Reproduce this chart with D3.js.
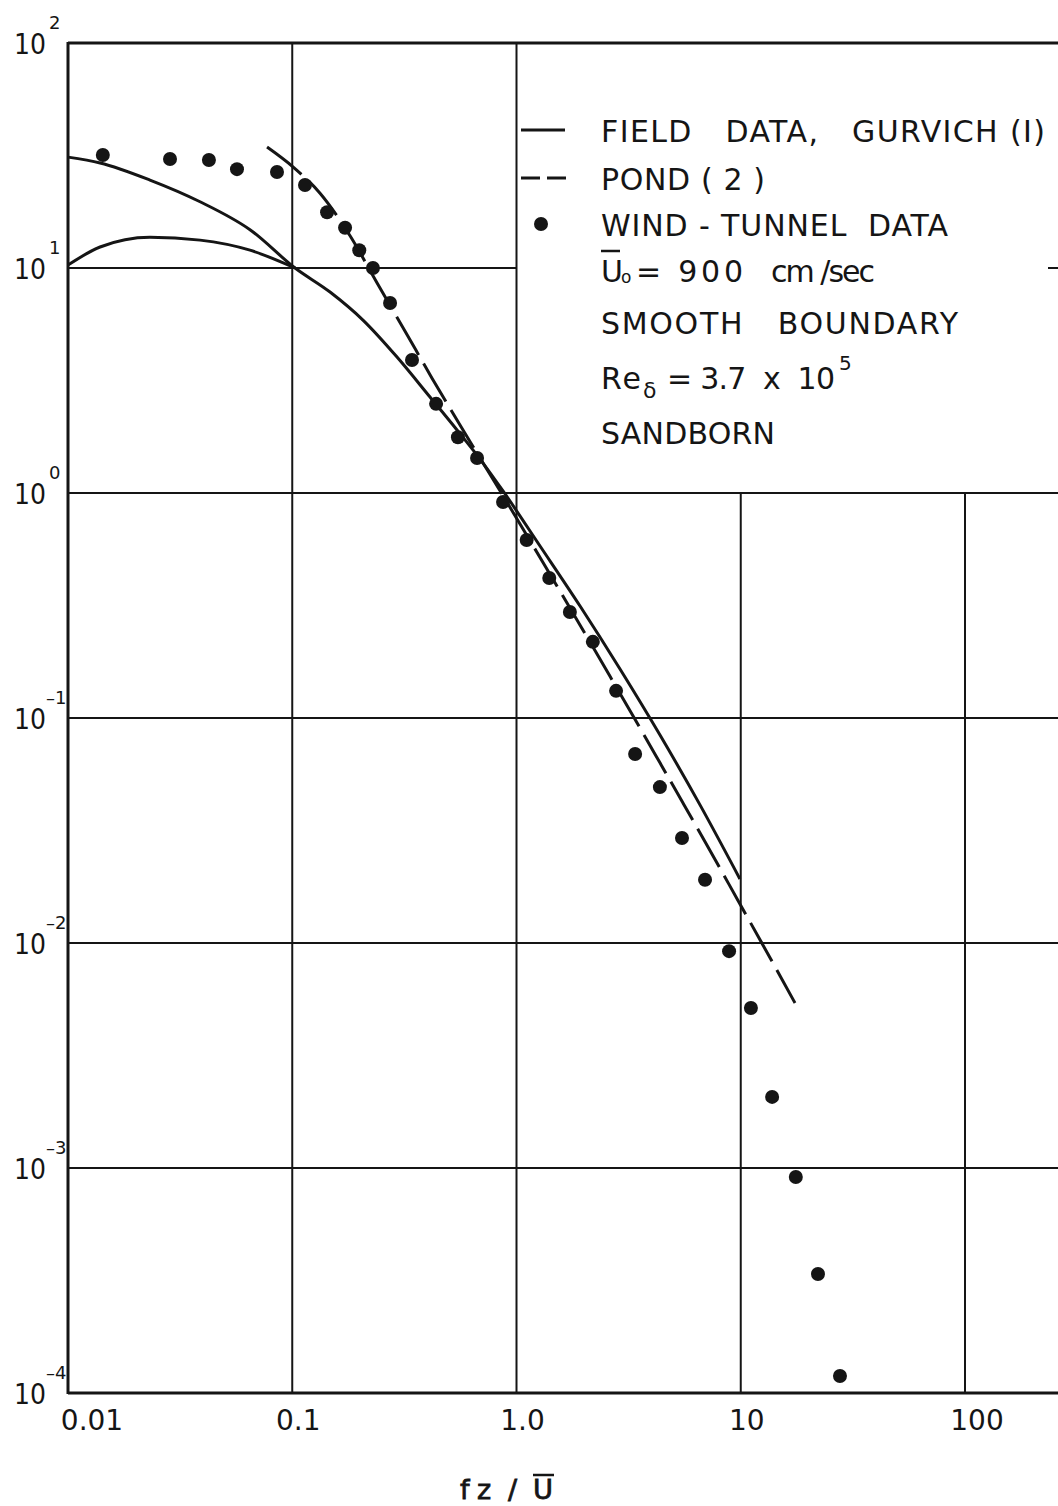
<!DOCTYPE html>
<html>
<head>
<meta charset="utf-8">
<script src="https://cdn.jsdelivr.net/npm/d3@7"></script>
<style>
    body { margin: 0; background: #fff; }
    svg { display: block; font-family: "DejaVu Sans", sans-serif; fill: #151515; }
</style>
</head>
<body>
<svg id="chart" width="1058" height="1506"></svg>
<script>

// wind-tunnel spectrum points
var tunnel_f = [0.0143, 0.0285, 0.0425, 0.0567, 0.0855, 0.114, 0.143, 0.172, 0.199, 0.229,
                0.273, 0.342, 0.438, 0.548, 0.667, 0.871, 1.11, 1.40, 1.73, 2.19,
                2.78, 3.38, 4.36, 5.47, 6.93, 8.87, 11.1, 13.8, 17.6, 22.1, 27.7];
var tunnel_s = [31.8, 30.5, 30.2, 27.5, 26.7, 23.4, 17.7, 15.1, 12.0, 10.0,
                6.99, 3.90, 2.49, 1.77, 1.43, 0.912, 0.618, 0.419, 0.296, 0.218,
                0.132, 0.0692, 0.0493, 0.0293, 0.0191, 0.0092, 0.00514, 0.00207, 0.000912, 0.000338, 0.000119];

// Gurvich field data: two branches at low f, they meet near f = 0.1
var gurvich_upper_f = [0.01, 0.0139, 0.0232, 0.0388, 0.0648];
var gurvich_upper_s = [31.1, 29.3, 24.6, 19.7, 14.8];
var gurvich_lower_f = [0.01, 0.0139, 0.0232, 0.0388, 0.0648, 0.1029];
var gurvich_lower_s = [10.3, 12.4, 13.7, 13.3, 12.0, 10.0];
var gurvich_tail_f = [0.1029, 0.1474, 0.2067, 0.2932, 0.4114, 0.5429, 0.7088, 0.8705,
                      1.273, 1.920, 2.894, 4.364, 6.58, 9.92];
var gurvich_tail_s = [10.0, 7.82, 5.87, 4.02, 2.67, 1.905, 1.359, 1.021,
                      0.5813, 0.3146, 0.1651, 0.0840, 0.0411, 0.01925];

// Pond (2)
var pond_f = [0.0772, 0.101, 0.133, 0.181, 0.239, 0.318, 0.420, 0.621, 0.889, 1.313,
              1.960, 2.612, 3.446, 4.364, 5.527, 6.93, 9.72, 12.57, 17.46];
var pond_s = [34.5, 28.1, 21.5, 13.9, 8.58, 5.25, 3.24, 1.69, 0.94, 0.491,
              0.250, 0.1532, 0.0952, 0.0632, 0.0419, 0.0282, 0.01546, 0.00978, 0.00541];

var x_ticks = [0.01, 0.1, 1, 10, 100];
var x_tick_labels = ["0.01", "0.1", "1.0", "10", "100"];
var y_ticks = [1e2, 1e1, 1e0, 1e-1, 1e-2, 1e-3, 1e-4];
var y_tick_exps = ["2", "1", "0", "-1", "-2", "-3", "-4"];

var legend_text = ["FIELD   DATA,   GURVICH (I)", "POND ( 2 )", "WIND - TUNNEL  DATA",
                   "SMOOTH   BOUNDARY", "SANDBORN"];


function pairs(xs, ys) {
    return xs.map(function(v, i) { return [v, ys[i]]; });
}

draw_chart();

function draw_chart() {
    var svg = d3.select("#chart");
    var W = 1058;
    var left = 68, top = 43, bottom = 1393;

    var x = d3.scaleLog().domain([0.01, 100]).range([left, 965]);
    var y = d3.scaleLog().domain([1e-4, 1e2]).range([bottom, top]);
    var ink = "#151515";

    var grid = svg.append("g").attr("stroke", ink).attr("stroke-width", 2);

    // horizontal grid; the 10^1 line stops at the legend box
    y_ticks.slice(1, 6).forEach(function(v) {
        var x2 = v > 1 ? x(1) : W;
        grid.append("line").attr("x1", left).attr("x2", x2)
            .attr("y1", y(v)).attr("y2", y(v));
    });
    grid.append("line").attr("x1", 1048).attr("x2", W)
        .attr("y1", y(10)).attr("y2", y(10));

    // vertical grid; lines right of 1.0 start below the legend
    x_ticks.slice(1).forEach(function(v) {
        grid.append("line").attr("x1", x(v)).attr("x2", x(v))
            .attr("y1", v > 1 ? y(1) : top).attr("y2", bottom);
    });

    // frame
    var frame = svg.append("g").attr("stroke", ink).attr("stroke-width", 3);
    frame.append("line").attr("x1", left).attr("x2", W).attr("y1", top).attr("y2", top);
    frame.append("line").attr("x1", left).attr("x2", W).attr("y1", bottom).attr("y2", bottom);
    frame.append("line").attr("x1", left).attr("x2", left).attr("y1", top - 1).attr("y2", bottom + 1);

    // curves
    var line = d3.line()
        .x(function(d) { return x(d[0]); })
        .y(function(d) { return y(d[1]); })
        .curve(d3.curveMonotoneX);

    var curves = svg.append("g").attr("fill", "none").attr("stroke", ink)
        .attr("stroke-width", 3).attr("stroke-linecap", "butt");

    curves.append("path")
        .attr("d", line(pairs(gurvich_upper_f, gurvich_upper_s).concat(pairs(gurvich_tail_f, gurvich_tail_s))));
    curves.append("path")
        .attr("d", line(pairs(gurvich_lower_f, gurvich_lower_s)));
    curves.append("path")
        .attr("stroke-dasharray", "44,10")
        .attr("d", line(pairs(pond_f, pond_s)));

    // wind tunnel dots
    svg.append("g").selectAll("circle")
        .data(pairs(tunnel_f, tunnel_s))
        .enter().append("circle")
        .attr("cx", function(d) { return x(d[0]); })
        .attr("cy", function(d) { return y(d[1]); })
        .attr("r", 7)
        .attr("fill", ink);

    // y tick labels: 10 with exponent
    var ylab = svg.append("g");
    y_ticks.forEach(function(v, i) {
        var exp = y_tick_exps[i];
        ylab.append("text").attr("x", 14).attr("y", y(v) + 11)
            .attr("font-size", 28).attr("textLength", 32).attr("lengthAdjust", "spacingAndGlyphs")
            .text("10");
        ylab.append("text")
            .attr("x", exp.charAt(0) == "-" ? 46 : 49)
            .attr("y", y(v) - 14)
            .attr("font-size", 18)
            .text(exp.replace("-", "\u2013"));
    });

    // x tick labels
    var xlab = svg.append("g").attr("font-size", 28).attr("text-anchor", "middle");
    x_ticks.forEach(function(v, i) {
        var shift = i == 0 ? 24 : (i == 4 ? 12 : 6);
        xlab.append("text").attr("x", x(v) + shift).attr("y", 1430)
            .text(x_tick_labels[i]);
    });

    // axis title fz / U-bar
    var title = svg.append("g").attr("font-size", 27)
        .attr("stroke", ink).attr("stroke-width", 0.8);
    title.append("text").attr("x", 460).attr("y", 1499).text("f");
    title.append("text").attr("x", 477).attr("y", 1499).text("z");
    title.append("text").attr("x", 508).attr("y", 1499).text("/");
    title.append("text").attr("x", 533).attr("y", 1499)
        .attr("textLength", 20).attr("lengthAdjust", "spacingAndGlyphs").text("U");
    title.append("line").attr("x1", 533).attr("x2", 554)
        .attr("y1", 1475).attr("y2", 1475)
        .attr("stroke-width", 2.5);

    draw_legend(svg, ink);
}


function draw_legend(svg, ink) {
    var g = svg.append("g").attr("font-size", 30);
    var tx = 601;

    // symbol column
    g.append("line").attr("x1", 521).attr("x2", 565).attr("y1", 130).attr("y2", 130)
        .attr("stroke", ink).attr("stroke-width", 3);
    g.append("line").attr("x1", 521).attr("x2", 567).attr("y1", 178).attr("y2", 178)
        .attr("stroke", ink).attr("stroke-width", 3).attr("stroke-dasharray", "19,7");
    g.append("circle").attr("cx", 541).attr("cy", 224).attr("r", 7).attr("fill", ink);

    var rows = [
        {text: legend_text[0], y: 142, w: 444},
        {text: legend_text[1], y: 190, w: 164},
        {text: legend_text[2], y: 236, w: 347},
        {text: legend_text[3], y: 334, w: 357},
        {text: legend_text[4], y: 444, w: 174}
    ];
    rows.forEach(function(r) {
        g.append("text").attr("x", tx).attr("y", r.y)
            .attr("textLength", r.w).attr("lengthAdjust", "spacing")
            .attr("xml:space", "preserve").text(r.text);
    });

    // U-bar sub o = 900 cm/sec
    g.append("text").attr("x", tx).attr("y", 282).text("U");
    g.append("line").attr("x1", tx).attr("x2", tx + 19).attr("y1", 251).attr("y2", 251)
        .attr("stroke", ink).attr("stroke-width", 2.5);
    g.append("text").attr("x", 621).attr("y", 283).attr("font-size", 17).text("o");
    g.append("text").attr("x", 636).attr("y", 282)
        .attr("textLength", 107).attr("lengthAdjust", "spacing")
        .attr("xml:space", "preserve").text("= 900");
    g.append("text").attr("x", 771).attr("y", 282)
        .attr("textLength", 104).attr("lengthAdjust", "spacing")
        .text("cm /sec");

    // Re sub delta = 3.7 x 10^5
    g.append("text").attr("x", tx).attr("y", 389)
        .attr("textLength", 40).attr("lengthAdjust", "spacing").text("Re");
    g.append("text").attr("x", 643).attr("y", 398).attr("font-size", 22).text("\u03b4");
    g.append("text").attr("x", 667).attr("y", 389)
        .attr("textLength", 168).attr("lengthAdjust", "spacing")
        .attr("xml:space", "preserve").text("= 3.7  x  10");
    g.append("text").attr("x", 839).attr("y", 370).attr("font-size", 20).text("5");
}
</script>
</body>
</html>
